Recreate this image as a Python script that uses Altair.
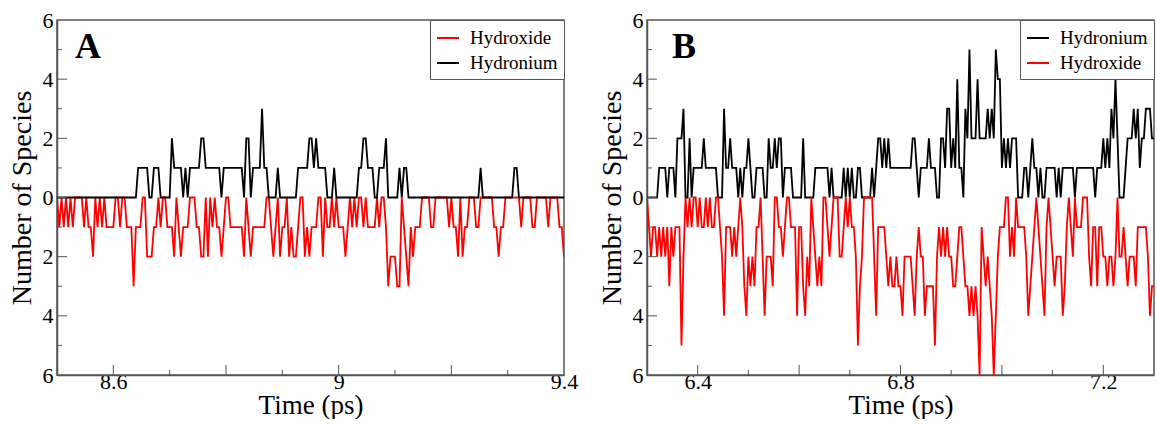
import altair as alt
import pandas as pd

DT = 0.004  # sampling step (ps)
A_T0, A_T1 = 8.5, 9.4
B_T0, B_T1 = 6.3, 7.3

# Panel A counts (hydroxide stored as positive counts, drawn below zero)
A_hydronium = [
    0,0,0,0,0,0,0,0,0,0,
    0,0,0,0,0,0,0,0,0,0,
    0,0,0,0,0,0,0,0,0,0,
    0,0,0,0,0,0,1,1,1,1,
    1,0,0,1,1,1,0,0,0,0,
    0,2,1,1,1,1,0,1,0,1,
    1,1,1,1,2,2,1,1,1,1,
    1,1,1,0,1,1,1,1,1,1,
    1,1,1,0,2,2,0,1,1,1,
    1,3,1,1,0,0,0,0,1,0,
    0,0,0,0,0,0,0,1,1,1,
    1,1,2,2,1,2,1,1,1,1,
    0,0,0,1,0,0,0,0,0,0,
    0,0,0,0,1,1,2,2,1,1,
    1,0,0,1,1,1,2,0,0,0,
    0,0,1,0,1,1,0,0,0,0,
    0,0,0,0,0,0,0,0,0,0,
    0,0,0,0,0,0,0,0,0,0,
    0,0,0,0,0,0,0,0,1,0,
    0,0,0,0,0,0,0,0,0,0,
    0,0,0,1,1,0,0,0,0,0,
    0,0,0,0,0,0,0,0,0,0,
    0,0,0,0,0,0,
]
A_hydroxide = [
    0,1,0,1,0,1,0,1,0,0,
    0,0,1,0,1,1,2,0,1,0,
    1,0,1,1,1,1,0,0,1,0,
    0,1,1,1,3,1,1,1,0,0,
    2,2,2,1,1,0,1,0,0,1,
    1,1,2,0,1,2,1,1,1,0,
    0,0,1,1,2,2,0,2,0,1,
    0,1,1,2,1,0,0,1,1,1,
    1,1,1,2,0,1,2,1,1,1,
    1,1,1,0,0,1,2,1,0,2,
    1,1,0,2,1,2,2,1,0,0,
    2,1,2,1,1,1,0,0,2,0,
    1,1,0,1,0,1,1,1,2,1,
    0,1,0,1,0,0,1,0,1,1,
    1,1,0,1,0,0,1,3,2,2,
    2,3,3,0,1,2,3,1,2,1,
    1,1,0,0,0,0,1,1,0,0,
    0,0,0,0,1,0,1,1,2,0,
    2,1,1,0,0,0,1,1,0,0,
    0,0,0,0,1,1,2,1,1,0,
    0,0,0,0,0,0,1,0,0,0,
    0,1,1,0,0,0,0,0,1,0,
    0,0,0,1,1,2,
]

# Panel B counts
B_hydronium = [
    0,0,0,0,0,0,1,1,1,1,
    0,1,1,1,0,2,2,2,3,0,
    0,2,0,1,1,1,1,1,2,1,
    1,1,1,1,1,0,0,0,3,1,
    1,2,1,1,1,0,1,0,1,1,
    2,1,0,0,1,1,1,1,0,0,
    2,1,1,2,1,2,2,0,1,1,
    1,1,0,0,0,0,0,2,0,0,
    0,0,0,1,1,1,1,1,1,1,
    0,1,0,0,0,0,0,1,0,1,
    0,1,0,0,1,1,0,0,0,0,
    0,1,0,1,2,2,1,2,1,2,
    1,1,1,1,1,1,1,1,1,1,
    1,2,2,1,0,1,1,1,1,2,
    1,1,1,0,0,2,2,1,3,3,
    1,2,1,4,1,1,0,3,2,5,
    2,2,2,4,2,2,2,2,3,2,
    3,2,5,4,4,1,2,1,2,1,
    2,2,2,0,0,0,1,1,0,1,
    2,1,1,0,1,0,0,1,1,1,
    1,1,0,1,0,1,1,1,1,1,
    1,0,1,1,1,1,1,1,1,1,
    1,0,1,1,1,2,1,2,1,3,
    2,4,2,0,0,0,1,2,2,2,
    3,2,3,1,2,2,3,3,3,2,
    2,
]
B_hydroxide = [
    0,1,2,1,1,2,1,2,1,2,
    1,3,1,2,1,1,1,5,2,0,
    1,0,1,0,0,1,0,1,1,0,
    1,0,1,1,0,0,1,2,4,1,
    1,1,2,1,2,1,0,1,3,4,
    2,3,2,3,1,1,0,2,4,2,
    2,2,3,0,0,1,1,2,1,0,
    0,1,1,1,4,1,1,3,4,2,
    3,0,1,2,3,2,3,0,0,1,
    2,1,0,0,0,2,2,1,0,1,
    0,1,1,2,5,3,2,0,0,0,
    0,0,2,4,1,1,1,1,2,3,
    2,3,3,2,3,3,4,2,2,2,
    2,3,4,2,1,2,2,4,3,3,
    3,3,5,2,1,2,1,2,1,2,
    2,3,3,2,1,1,2,3,3,4,
    3,4,3,4,6,1,2,3,2,3,
    4,6,4,2,1,1,1,0,0,2,
    1,2,0,1,1,1,1,2,4,3,
    2,1,0,1,2,3,4,1,0,1,
    2,3,2,2,2,4,3,1,0,1,
    2,0,1,1,1,0,0,0,2,3,
    1,1,3,1,1,2,2,3,2,2,
    3,2,0,2,2,1,2,3,2,2,
    2,3,1,1,1,1,1,2,4,3,
    3,
]

# Axis ticks / labels
A_x_labels = [8.6, 9.0, 9.4]
A_x_major = [8.6, 8.8, 9.0, 9.2]
A_x_minor = [8.7, 8.9, 9.1, 9.3]
B_x_labels = [6.4, 6.8, 7.2]
B_x_major = [6.4, 6.6, 6.8, 7.0, 7.2]
B_x_minor = [6.5, 6.7, 6.9, 7.1]
y_labels = [-6, -4, -2, 0, 2, 4, 6]
y_major = [-4, -2, 0, 2, 4]
y_minor = [-5, -3, -1, 1, 3, 5]

W, H = 507, 355
FONT = "Liberation Serif"
AX = "#555555"


def frame(t0, hydronium, hydroxide):
    rows = []
    for i, v in enumerate(hydronium):
        rows.append({"t": round(t0 + i * DT, 4), "n": v, "species": "Hydronium"})
    for i, v in enumerate(hydroxide):
        rows.append({"t": round(t0 + i * DT, 4), "n": -v, "species": "Hydroxide"})
    return pd.DataFrame(rows)


def panel(letter, df, t0, t1, xlabels, xmajor, xminor, order, colors, letter_dx):
    xs = alt.Scale(domain=[t0, t1], nice=False, zero=False)
    ys = alt.Scale(domain=[-6, 6], nice=False, zero=False)
    cs = alt.Scale(domain=order, range=colors)
    xaxis = alt.Axis(values=xlabels, format="~g", title="Time (ps)", ticks=False,
                     tickSize=0, grid=False, labelFlush=False, labelOverlap=False,
                     labelFont=FONT, labelFontSize=22, labelColor="black",
                     labelPadding=-4, titleFont=FONT, titleFontSize=27,
                     titleFontWeight="normal", titleColor="black", titlePadding=0,
                     domainColor=AX, domainWidth=1.5)
    yaxis = alt.Axis(values=y_labels, labelExpr="abs(datum.value)",
                     title="Number of Species", ticks=False, tickSize=0, grid=False,
                     labelFlush=False, labelOverlap=False, labelFont=FONT,
                     labelFontSize=22, labelColor="black", labelPadding=4,
                     titleFont=FONT, titleFontSize=28, titleFontWeight="normal",
                     titleColor="black", titlePadding=6, domainColor=AX,
                     domainWidth=1.5)
    legend = alt.Legend(orient="top-right", offset=0, title=None,
                        strokeColor=AX, fillColor="white", padding=6,
                        symbolType="stroke", symbolSize=484, symbolStrokeWidth=2,
                        labelFont=FONT, labelFontSize=19, labelColor="black",
                        labelOffset=10, rowPadding=3, cornerRadius=0)
    layers = []
    for sp in order:
        layers.append(
            alt.Chart(df)
            .transform_filter(alt.datum.species == sp)
            .mark_line(strokeWidth=1.8, clip=True)
            .encode(
                x=alt.X("t:Q", scale=xs, axis=xaxis),
                y=alt.Y("n:Q", scale=ys, axis=yaxis),
                color=alt.Color("species:N", scale=cs, legend=legend),
            )
        )
    xt_major = alt.Chart(pd.DataFrame({"v": xmajor})).mark_rule(color=AX, strokeWidth=1).encode(
        x=alt.X("v:Q", scale=xs, axis=xaxis), y=alt.value(H), y2=alt.value(H - 10))
    xt_minor = alt.Chart(pd.DataFrame({"v": xminor})).mark_rule(color=AX, strokeWidth=1).encode(
        x=alt.X("v:Q", scale=xs, axis=xaxis), y=alt.value(H), y2=alt.value(H - 5))
    yt_major = alt.Chart(pd.DataFrame({"v": y_major})).mark_rule(color=AX, strokeWidth=1).encode(
        y=alt.Y("v:Q", scale=ys, axis=yaxis), x=alt.value(0), x2=alt.value(10))
    yt_minor = alt.Chart(pd.DataFrame({"v": y_minor})).mark_rule(color=AX, strokeWidth=1).encode(
        y=alt.Y("v:Q", scale=ys, axis=yaxis), x=alt.value(0), x2=alt.value(5))
    label = alt.Chart(pd.DataFrame({"label": [letter]})).mark_text(
        font=FONT, fontSize=36, fontWeight="bold", align="left",
        baseline="alphabetic", color="black").encode(
        text="label:N", x=alt.value(letter_dx), y=alt.value(38))
    return alt.layer(*layers, xt_major, xt_minor, yt_major, yt_minor, label).properties(
        width=W, height=H)


dfA = frame(A_T0, A_hydronium, A_hydroxide)
dfB = frame(B_T0, B_hydronium, B_hydroxide)

pA = panel("A", dfA, A_T0, A_T1, A_x_labels, A_x_major, A_x_minor,
           ["Hydroxide", "Hydronium"], ["#ff0000", "#000000"], 18)
pB = panel("B", dfB, B_T0, B_T1, B_x_labels, B_x_major, B_x_minor,
           ["Hydronium", "Hydroxide"], ["#000000", "#ff0000"], 25)

chart = (
    alt.hconcat(pA, pB, spacing=18)
    .resolve_scale(color="independent", x="independent")
    .configure(font=FONT)
    .configure_view(stroke=AX, strokeWidth=1.5)
    .configure_legend(labelFont=FONT, labelFontSize=19, labelColor="black")
    .properties(padding={"left": 7, "top": 8, "right": 0, "bottom": 0},
                background="white")
)

chart.save("out.html", embed_options={"renderer": "svg", "actions": False})
